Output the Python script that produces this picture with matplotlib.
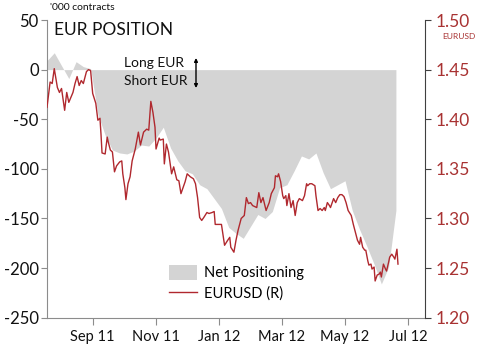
import pandas as pd
import matplotlib
matplotlib.use("Agg")
import matplotlib.pyplot as plt
import matplotlib.dates as mdates

plt.rcParams['font.family'] = ['Lato', 'DejaVu Sans']
plt.rcParams['axes.unicode_minus'] = False

# weekly CFTC net positioning, '000 contracts (Tuesdays)
net_dates = pd.date_range('2011-07-19', '2012-06-19', freq='7D')
net_pos = [9, 17, 4, -9, 8, 3, 1, -45, -66, -81, -84, -85, -82, -76, -77, -69,
           -58, -79, -92, -102, -105, -116, -120, -130, -140, -159, -165, -170,
           -158, -146, -150, -143, -119, -116, -102, -87, -90, -84, -104, -120,
           -116, -112, -142, -161, -178, -196, -216, -199, -142]

# EURUSD spot (right axis)
fx_dates = pd.to_datetime([
    '2011-07-19', '2011-07-22', '2011-07-24', '2011-07-26', '2011-07-29', '2011-07-31',
    '2011-08-02', '2011-08-05', '2011-08-07', '2011-08-09', '2011-08-11', '2011-08-13',
    '2011-08-15', '2011-08-17', '2011-08-19', '2011-08-21', '2011-08-23', '2011-08-26',
    '2011-08-28', '2011-08-30', '2011-09-01', '2011-09-04', '2011-09-06', '2011-09-08',
    '2011-09-09', '2011-09-10', '2011-09-13', '2011-09-15', '2011-09-16', '2011-09-18',
    '2011-09-20', '2011-09-22', '2011-09-24', '2011-09-27', '2011-09-29', '2011-09-30',
    '2011-10-02', '2011-10-03', '2011-10-05', '2011-10-07', '2011-10-09', '2011-10-12',
    '2011-10-15', '2011-10-17', '2011-10-20', '2011-10-23', '2011-10-25', '2011-10-27',
    '2011-10-29', '2011-10-31', '2011-11-01', '2011-11-04', '2011-11-05', '2011-11-08',
    '2011-11-09', '2011-11-11', '2011-11-13', '2011-11-16', '2011-11-18', '2011-11-21',
    '2011-11-23', '2011-11-25', '2011-11-27', '2011-11-29', '2011-12-01', '2011-12-04',
    '2011-12-07', '2011-12-09', '2011-12-11', '2011-12-13', '2011-12-15', '2011-12-17',
    '2011-12-20', '2011-12-22', '2011-12-25', '2011-12-27', '2011-12-28', '2011-12-31',
    '2012-01-03', '2012-01-06', '2012-01-09', '2012-01-11', '2012-01-12', '2012-01-15',
    '2012-01-17', '2012-01-19', '2012-01-22', '2012-01-25', '2012-01-27', '2012-01-29',
    '2012-01-31', '2012-02-02', '2012-02-06', '2012-02-08', '2012-02-10', '2012-02-12',
    '2012-02-15', '2012-02-18', '2012-02-20', '2012-02-23', '2012-02-24', '2012-02-26',
    '2012-02-27', '2012-02-29', '2012-03-02', '2012-03-03', '2012-03-05', '2012-03-06',
    '2012-03-08', '2012-03-10', '2012-03-12', '2012-03-14', '2012-03-16', '2012-03-18',
    '2012-03-21', '2012-03-23', '2012-03-25', '2012-03-26', '2012-03-28', '2012-03-30',
    '2012-04-02', '2012-04-03', '2012-04-05', '2012-04-07', '2012-04-09', '2012-04-11',
    '2012-04-12', '2012-04-14', '2012-04-16', '2012-04-17', '2012-04-20', '2012-04-22',
    '2012-04-24', '2012-04-26', '2012-04-28', '2012-04-30', '2012-05-02', '2012-05-04',
    '2012-05-07', '2012-05-09', '2012-05-11', '2012-05-13', '2012-05-15', '2012-05-16',
    '2012-05-18', '2012-05-20', '2012-05-21', '2012-05-23', '2012-05-24', '2012-05-26',
    '2012-05-27', '2012-05-29', '2012-05-30', '2012-06-01', '2012-06-03', '2012-06-04',
    '2012-06-05', '2012-06-07', '2012-06-09', '2012-06-10', '2012-06-12', '2012-06-13',
    '2012-06-15', '2012-06-17', '2012-06-18', '2012-06-20', '2012-06-21'])
eurusd = [1.412, 1.4375, 1.436, 1.451, 1.432, 1.427, 1.431, 1.409, 1.427, 1.417,
          1.422, 1.427, 1.436, 1.443, 1.434, 1.439, 1.436, 1.448, 1.450, 1.449,
          1.426, 1.416, 1.399, 1.401, 1.385, 1.366, 1.365, 1.382, 1.377, 1.369,
          1.367, 1.347, 1.353, 1.357, 1.358, 1.345, 1.331, 1.319, 1.335, 1.342,
          1.358, 1.370, 1.387, 1.374, 1.387, 1.390, 1.389, 1.418, 1.407, 1.392,
          1.370, 1.381, 1.379, 1.380, 1.355, 1.375, 1.367, 1.345, 1.352, 1.339,
          1.338, 1.325, 1.331, 1.337, 1.345, 1.342, 1.340, 1.335, 1.321, 1.301,
          1.298, 1.301, 1.306, 1.305, 1.306, 1.307, 1.294, 1.294, 1.294, 1.273,
          1.278, 1.281, 1.271, 1.266, 1.278, 1.288, 1.300, 1.303, 1.321, 1.315,
          1.316, 1.313, 1.311, 1.326, 1.316, 1.321, 1.308, 1.316, 1.325, 1.331,
          1.343, 1.342, 1.345, 1.337, 1.323, 1.320, 1.323, 1.313, 1.325, 1.311,
          1.318, 1.303, 1.316, 1.320, 1.318, 1.323, 1.335, 1.333, 1.335, 1.335,
          1.333, 1.323, 1.308, 1.310, 1.308, 1.311, 1.308, 1.316, 1.313, 1.311,
          1.320, 1.316, 1.321, 1.324, 1.324, 1.322, 1.316, 1.308, 1.303, 1.294,
          1.286, 1.278, 1.274, 1.281, 1.271, 1.268, 1.268, 1.257, 1.253, 1.254,
          1.249, 1.251, 1.237, 1.243, 1.244, 1.246, 1.241, 1.254, 1.249, 1.247,
          1.256, 1.261, 1.264, 1.261, 1.259, 1.269, 1.254]

red = '#B0282E'
label_red = '#A83232'

fig = plt.figure(figsize=(4.82, 3.51), dpi=100)
ax = fig.add_axes([0.0975, 0.0949, 0.7842, 0.8481])
ax2 = ax.twinx()

ax.fill_between(net_dates, net_pos, 0, color='#D4D4D4', lw=0, label='Net Positioning')
ln, = ax2.plot(fx_dates, eurusd, color=red, lw=1.0, label='EURUSD (R)')

ax.set_xlim(pd.Timestamp('2011-07-19'), pd.Timestamp('2012-07-17'))
ax.set_ylim(-250, 50)
ax.set_yticks(range(-250, 51, 50))
ax2.set_ylim(1.20, 1.50)
ax2.set_yticks([1.20, 1.25, 1.30, 1.35, 1.40, 1.45, 1.50])
ax2.yaxis.set_major_formatter(matplotlib.ticker.FormatStrFormatter('%.2f'))

ax.xaxis.set_major_locator(mdates.MonthLocator(bymonth=[1, 3, 5, 7, 9, 11]))
ax.xaxis.set_major_formatter(mdates.DateFormatter('%b %y'))

for a in (ax, ax2):
    a.spines['top'].set_visible(False)
ax.spines['right'].set_visible(False)
ax.spines['left'].set_color('#8C8C8C')
ax.spines['bottom'].set_color('#8C8C8C')
ax2.spines['left'].set_visible(False)
ax2.spines['bottom'].set_visible(False)
ax2.spines['right'].set_color('#404040')

ax.tick_params(axis='y', labelsize=12, length=4, color='#8C8C8C', pad=2, labelcolor='#111111')
ax.tick_params(axis='x', labelsize=10.5, length=5, color='#8C8C8C', pad=4, labelcolor='#111111')
ax2.tick_params(axis='y', labelsize=12.5, length=4, color='#404040', pad=4, labelcolor=label_red)

fig.text(54 / 482, 1 - 35 / 351, 'EUR POSITION', fontsize=12.5, color='#111111')
fig.text(50 / 482, 1 - 9.5 / 351, "'000 contracts", fontsize=7.5, color='#111111')
fig.text(442 / 482, 1 - 39 / 351, 'EURUSD', fontsize=6, color=label_red)
fig.text(124 / 482, 1 - 67 / 351, 'Long EUR', fontsize=10, color='#111111')
fig.text(124 / 482, 1 - 85 / 351, 'Short EUR', fontsize=10, color='#111111')
ax.annotate('', xy=(196, 351 - 58), xytext=(196, 351 - 88),
            xycoords='figure pixels', textcoords='figure pixels',
            arrowprops=dict(arrowstyle='<|-|>', color='black', lw=1.0,
                            mutation_scale=5, shrinkA=0, shrinkB=0))

handles = [ax.collections[0], ln]
ax2.legend(handles, ['Net Positioning', 'EURUSD (R)'], loc='lower left',
           bbox_to_anchor=(0.289, 0.012), frameon=False, fontsize=10.5,
           handlelength=1.9, handleheight=1.2, handletextpad=0.45, labelspacing=0.35)

fig.savefig('out.png', dpi=100)
